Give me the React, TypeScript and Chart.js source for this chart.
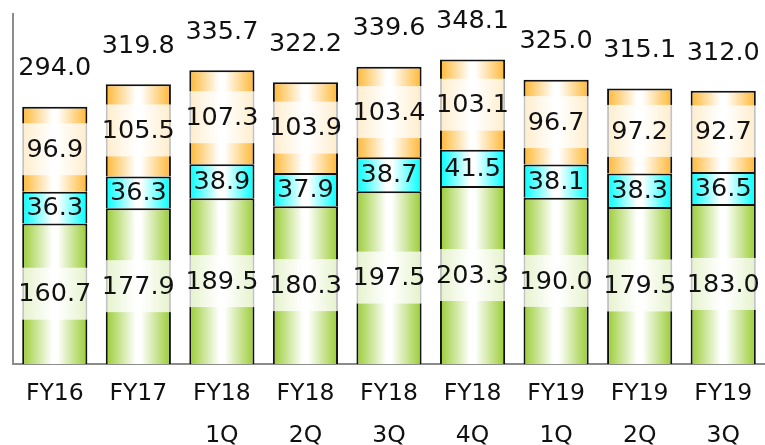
import React, { useEffect, useRef } from "react";
import { Chart, registerables } from "chart.js";

Chart.register(...registerables);

const categories: string[][] = [
  ["FY16"],
  ["FY17"],
  ["FY18", "1Q"],
  ["FY18", "2Q"],
  ["FY18", "3Q"],
  ["FY18", "4Q"],
  ["FY19", "1Q"],
  ["FY19", "2Q"],
  ["FY19", "3Q"],
];

const greenValues = [160.7, 177.9, 189.5, 180.3, 197.5, 203.3, 190.0, 179.5, 183.0];
const cyanValues = [36.3, 36.3, 38.9, 37.9, 38.7, 41.5, 38.1, 38.3, 36.5];
const orangeValues = [96.9, 105.5, 107.3, 103.9, 103.4, 103.1, 96.7, 97.2, 92.7];
const totalValues = [294.0, 319.8, 335.7, 322.2, 339.6, 348.1, 325.0, 315.1, 312.0];

const BAR_FRACTION = 0.78;
const FONT = "'DejaVu Sans', Verdana, sans-serif";

// Horizontal "cylinder" shading: coloured edges fading to white in the middle.
const shadedFill = (color: string) => (ctx: any) => {
  const chart = ctx.chart;
  const xs = chart.scales?.x;
  if (!xs || !chart.chartArea || ctx.dataIndex === undefined) return color;
  const c = xs.getPixelForValue(ctx.dataIndex);
  const w = (xs.getPixelForValue(1) - xs.getPixelForValue(0)) * BAR_FRACTION;
  const g = chart.ctx.createLinearGradient(c - w / 2, 0, c + w / 2, 0);
  g.addColorStop(0, color);
  g.addColorStop(0.46, "#ffffff");
  g.addColorStop(0.54, "#ffffff");
  g.addColorStop(1, color);
  return g;
};

const valueLabels = {
  id: "valueLabels",
  afterDatasetsDraw(chart: any) {
    const { ctx } = chart;
    const yScale = chart.scales.y;
    ctx.save();
    ctx.textAlign = "center";
    ctx.textBaseline = "middle";
    ctx.fillStyle = "#111";
    ctx.font = `25.5px ${FONT}`;

    chart.data.datasets.forEach((ds: any, d: number) => {
      const meta = chart.getDatasetMeta(d);
      meta.data.forEach((bar: any, i: number) => {
        const cy = (bar.y + bar.base) / 2;
        if (ds.labelBox) {
          ctx.fillStyle = "rgba(255,255,255,0.75)";
          ctx.fillRect(bar.x - bar.width / 2 - 1.5, cy - 26, bar.width + 3, 52);
        }
        ctx.fillStyle = "#111";
        ctx.fillText(ds.data[i].toFixed(1), bar.x, cy + 1);
      });
    });

    const top = chart.getDatasetMeta(0);
    top.data.forEach((bar: any, i: number) => {
      const y = yScale.getPixelForValue(totalValues[i]) - 38;
      ctx.fillText(totalValues[i].toFixed(1), bar.x, y);
    });
    ctx.restore();
  },
};

export default function App() {
  const ref = useRef<HTMLCanvasElement>(null);

  useEffect(() => {
    if (!ref.current) return;
    const chart = new Chart(ref.current, {
      type: "bar",
      data: {
        labels: categories,
        datasets: [
          {
            label: "green",
            data: greenValues,
            backgroundColor: shadedFill("#99cc33"),
            borderColor: "#111",
            borderWidth: 2,
            labelBox: true,
          } as any,
          {
            label: "cyan",
            data: cyanValues,
            backgroundColor: shadedFill("#00ffff"),
            borderColor: "#111",
            borderWidth: 2,
            labelBox: false,
          } as any,
          {
            label: "orange",
            data: orangeValues,
            backgroundColor: shadedFill("#ffb733"),
            borderColor: "#111",
            borderWidth: 2,
            labelBox: true,
          } as any,
        ],
      },
      options: {
        responsive: false,
        animation: false,
        layout: { padding: { top: 14, left: 13, right: 0, bottom: 0 } },
        datasets: {
          bar: { categoryPercentage: 1, barPercentage: BAR_FRACTION },
        },
        plugins: {
          legend: { display: false },
          tooltip: { enabled: false },
        },
        scales: {
          x: {
            stacked: true,
            grid: { display: false, drawTicks: false },
            border: { display: true, color: "#8c8c8c", width: 2 },
            ticks: {
              color: "#111",
              padding: 9,
              maxRotation: 0,
              autoSkip: false,
              font: { family: FONT, size: 23.5, lineHeight: 1.78 },
            },
            afterFit: (s: any) => {
              s.height = 81;
            },
          },
          y: {
            stacked: true,
            min: 0,
            max: 400,
            grid: { display: false, drawTicks: false },
            border: { display: true, color: "#8c8c8c", width: 2 },
            ticks: { display: false },
            afterFit: (s: any) => {
              s.width = 0;
            },
          },
        },
      },
      plugins: [valueLabels],
    });
    return () => chart.destroy();
  }, []);

  return (
    <div style={{ position: "fixed", left: 0, top: 0, width: 765, height: 445, background: "#fff" }}>
      <canvas ref={ref} width={765} height={445} style={{ display: "block" }} />
    </div>
  );
}
